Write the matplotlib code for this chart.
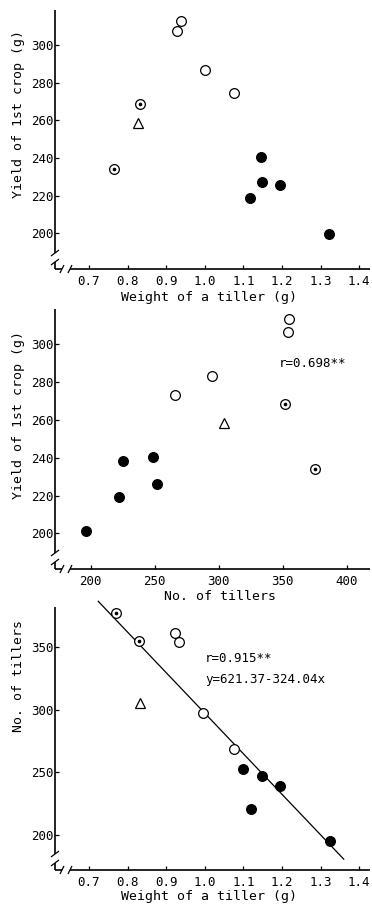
import matplotlib.pyplot as plt
import numpy as np

# ---- panel 1: weight of a tiller vs yield of 1st crop ----
w1_open = [0.929, 0.938, 1.000, 1.075]
y1_open = [307.6, 312.5, 286.9, 274.6]
w1_dot = [0.766, 0.832]
y1_dot = [234.0, 268.9]
w1_tri = [0.827]
y1_tri = [258.7]
w1_fill = [1.118, 1.145, 1.148, 1.196, 1.322]
y1_fill = [218.7, 240.7, 227.2, 225.6, 199.6]

# ---- panel 2: no. of tillers vs yield of 1st crop ----
n2_open = [266, 295, 354, 355]
y2_open = [273.2, 283.4, 306.7, 313.4]
n2_dot = [352, 375]
y2_dot = [268.3, 233.9]
n2_tri = [304]
y2_tri = [258.2]
n2_fill = [196, 222, 225, 249, 252]
y2_fill = [201.3, 219.2, 238.1, 240.4, 225.9]

# ---- panel 3: weight of a tiller vs no. of tillers ----
w3_open = [0.923, 0.932, 0.996, 1.075]
n3_open = [361.2, 354.5, 297.3, 268.5]
w3_dot = [0.769, 0.830]
n3_dot = [377.7, 355.0]
w3_tri = [0.831]
n3_tri = [305.7]
w3_fill = [1.098, 1.119, 1.148, 1.196, 1.324]
n3_fill = [252.5, 220.5, 247.3, 239.0, 195.4]
fit_a, fit_b = 621.37, -324.04
fit_x = [0.724, 1.36]

FONT = "DejaVu Sans Mono"
plt.rcParams["font.family"] = FONT
plt.rcParams["font.size"] = 9

fig = plt.figure(figsize=(3.72, 9.11), dpi=100)


def make_axes(rect):
    ax = fig.add_axes(rect)
    for s in ax.spines.values():
        s.set_visible(False)
    ax.tick_params(direction="in", length=3, width=0.9, top=False, right=False)
    ax.tick_params(axis="x", pad=4)
    ax.tick_params(axis="y", pad=1)
    return ax


def draw_frame(ax):
    # hand drawn axes with the "//" break marks near the origin
    bb = ax.get_position()
    W = bb.width * fig.get_figwidth() * fig.dpi
    H = bb.height * fig.get_figheight() * fig.dpi
    kw = dict(transform=ax.transAxes, color="k", lw=1.2, clip_on=False,
              solid_capstyle="butt")
    ya, yb = 7 / H, 16 / H
    xa, xb = 7 / W, 15 / W
    ax.plot([0, 0], [0, ya], **kw)
    ax.plot([0, 0], [yb, 1], **kw)
    ax.plot([0, xa], [0, 0], **kw)
    ax.plot([xb, 1], [0, 0], **kw)
    kw["lw"] = 0.9
    for yy in (ya, yb):
        ax.plot([-4 / W, 4 / W], [yy - 3 / H, yy + 3 / H], **kw)
    for xx in (xa, xb):
        ax.plot([xx - 2 / W, xx + 2 / W], [-4 / H, 4 / H], **kw)


def draw_points(ax, xo, yo, xd, yd, xt, yt, xf, yf):
    mk = dict(ls="none", ms=7, mew=0.9, mec="k", zorder=3)
    ax.plot(xo, yo, "o", mfc="white", **mk)
    ax.plot(xd, yd, "o", mfc="white", **mk)
    ax.plot(xd, yd, "o", ls="none", ms=1.6, color="k", zorder=4)
    ax.plot(xt, yt, "^", mfc="white", ls="none", ms=6.5, mew=0.9, mec="k", zorder=3)
    ax.plot(xf, yf, "o", mfc="k", **mk)


# top panel
ax1 = make_axes([0.1478, 0.7047, 0.8468, 0.2843])
draw_points(ax1, w1_open, y1_open, w1_dot, y1_dot, w1_tri, y1_tri, w1_fill, y1_fill)
ax1.set_xlim(0.612, 1.428)
ax1.set_ylim(181.1, 318.5)
ax1.set_xticks(np.arange(0.7, 1.41, 0.1))
ax1.set_xticklabels(["0.7", "0.8", "0.9", "1.0", "1.1", "1.2", "1.3", "1.4"])
ax1.set_yticks(np.arange(200, 301, 20))
ax1.set_xlabel("Weight of a tiller (g)", fontsize=9.5)
ax1.set_ylabel("Yield of 1st crop (g)", fontsize=9.5)
ax1.xaxis.set_label_coords(0.489, -0.085)
ax1.yaxis.set_label_coords(-0.095, 0.598)
draw_frame(ax1)

# middle panel
ax2 = make_axes([0.1478, 0.3754, 0.8468, 0.2854])
draw_points(ax2, n2_open, y2_open, n2_dot, y2_dot, n2_tri, y2_tri, n2_fill, y2_fill)
ax2.set_xlim(172.1, 418.2)
ax2.set_ylim(181.1, 318.7)
ax2.set_xticks(np.arange(200, 401, 50))
ax2.set_yticks(np.arange(200, 301, 20))
ax2.set_xlabel("No. of tillers", fontsize=9.5)
ax2.set_ylabel("Yield of 1st crop (g)", fontsize=9.5)
ax2.xaxis.set_label_coords(0.524, -0.081)
ax2.yaxis.set_label_coords(-0.095, 0.592)
ax2.text(347, 290, "r=0.698**", ha="left", va="center", fontsize=9)
draw_frame(ax2)

# bottom panel
ax3 = make_axes([0.1478, 0.0450, 0.8468, 0.2887])
xs = np.array(fit_x)
ax3.plot(xs, fit_a + fit_b * xs, color="k", lw=0.9, clip_on=False, zorder=2)
draw_points(ax3, w3_open, n3_open, w3_dot, n3_dot, w3_tri, n3_tri, w3_fill, n3_fill)
ax3.set_xlim(0.612, 1.428)
ax3.set_ylim(172.0, 382.2)
ax3.set_xticks(np.arange(0.7, 1.41, 0.1))
ax3.set_xticklabels(["0.7", "0.8", "0.9", "1.0", "1.1", "1.2", "1.3", "1.4"])
ax3.set_yticks(np.arange(200, 351, 50))
ax3.set_xlabel("Weight of a tiller (g)", fontsize=9.5)
ax3.set_ylabel("No. of tillers", fontsize=9.5)
ax3.xaxis.set_label_coords(0.489, -0.076)
ax3.yaxis.set_label_coords(-0.095, 0.738)
ax3.text(1.001, 341.4, "r=0.915**", ha="left", va="center", fontsize=9)
ax3.text(1.001, 323.9, "y=621.37-324.04x", ha="left", va="center", fontsize=9)
draw_frame(ax3)

fig.savefig("out.png", dpi=100)
